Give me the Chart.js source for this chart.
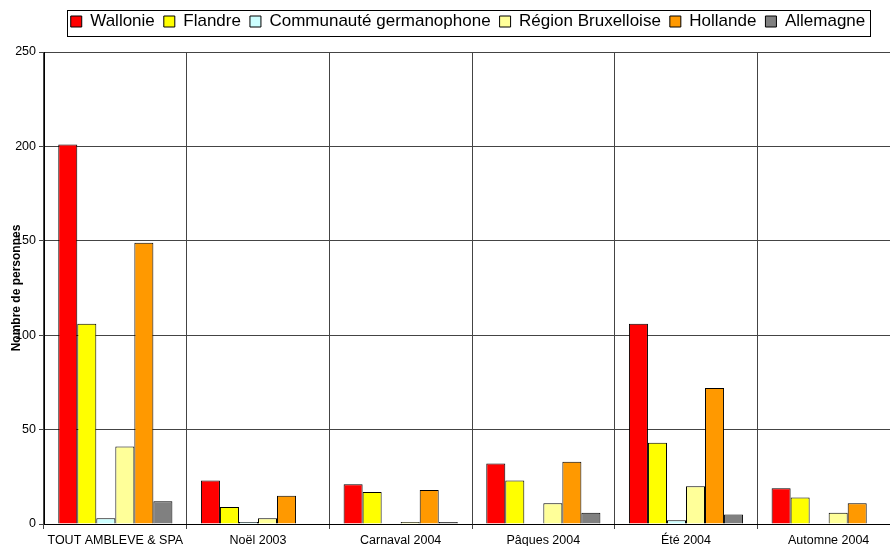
<!DOCTYPE html>
<html>
<head>
<meta charset="utf-8">
<script src="https://cdn.jsdelivr.net/npm/chart.js@4.4.0/dist/chart.umd.min.js"></script>
<style>
  body { margin: 0; background: #fff; }
  #wrap { width: 890px; height: 546px; overflow: hidden; }
</style>
</head>
<body>
<div id="wrap"><canvas id="myChart" width="936" height="546"></canvas></div>
<script>
// donnees
const periodes = ['TOUT AMBLEVE & SPA', 'Noël 2003', 'Carnaval 2004', 'Pâques 2004', 'Été 2004', 'Automne 2004'];
const wallonie = [201, 23, 21, 32, 106, 19];
const flandre = [106, 9, 17, 23, 43, 14];
const germanophone = [3, 1, 0, 0, 2, 0];
const bruxelles = [41, 3, 1, 11, 20, 6];
const hollande = [149, 15, 18, 33, 72, 11];
const allemagne = [12, 0, 1, 6, 5, 0];
const yTicks = [0, 50, 100, 150, 200, 250];

const police = 'Arial, "Liberation Sans", sans-serif';

// legend: decalage + cadre noir autour
const legendBox = {
  id: 'legendBox',
  beforeLayout(chart) {
    const lg = chart.legend;
    if (lg && !lg._patched) {
      const fit = lg.fit;
      lg.fit = function () { fit.call(this); this.height += 12; };
      lg._patched = true;
    }
  },
  afterLayout(chart) {
    const lg = chart.legend;
    lg.left += 18;
    lg.right += 18;
  },
  afterDraw(chart) {
    const boxes = chart.legend.legendHitBoxes;
    if (!boxes || !boxes.length) return;
    const ctx = chart.ctx;
    let x1 = Infinity, x2 = -Infinity;
    boxes.forEach(b => { x1 = Math.min(x1, b.left); x2 = Math.max(x2, b.left + b.width); });
    const cy = boxes[0].top + boxes[0].height / 2;
    ctx.save();
    ctx.strokeStyle = '#000';
    ctx.lineWidth = 1;
    ctx.strokeRect(Math.round(x1 - 4) + 0.5, Math.round(cy - 12) + 0.5, Math.round(x2 - x1 + 8), 26);
    ctx.restore();
  }
};

const ctx = document.getElementById('myChart');

new Chart(ctx, {
  type: 'bar',
  data: {
    labels: periodes,
    datasets: [
      { label: 'Wallonie', data: wallonie, backgroundColor: '#FF0000' },
      { label: 'Flandre', data: flandre, backgroundColor: '#FFFF00' },
      { label: 'Communauté germanophone', data: germanophone, backgroundColor: '#CCFFFF' },
      { label: 'Région Bruxelloise', data: bruxelles, backgroundColor: '#FFFF99' },
      { label: 'Hollande', data: hollande, backgroundColor: '#FF9900' },
      { label: 'Allemagne', data: allemagne, backgroundColor: '#808080' }
    ].map(d => Object.assign(d, { borderColor: '#000', borderWidth: 1 }))
  },
  options: {
    responsive: false,
    animation: false,
    categoryPercentage: 0.8,
    barPercentage: 1,
    layout: { padding: { top: 4, right: 36, left: 0, bottom: 0 } },
    plugins: {
      tooltip: { enabled: false },
      legend: {
        position: 'top',
        labels: {
          font: { family: police, size: 17 },
          color: '#000',
          boxWidth: 11,
          boxHeight: 11,
          padding: 9
        }
      }
    },
    scales: {
      x: {
        grid: { offset: true, color: '#444', tickLength: 5, drawTicks: true },
        border: { color: '#000' },
        ticks: { font: { family: police, size: 12.5 }, color: '#000', padding: 4, maxRotation: 0, autoSkip: false },
        afterFit(axis) { axis.height = 22; }
      },
      y: {
        min: 0,
        max: 250,
        afterBuildTicks(axis) { axis.ticks = yTicks.map(v => ({ value: v })); },
        grid: { color: '#444', tickLength: 5 },
        border: { color: '#000' },
        ticks: { font: { family: police, size: 12.5 }, color: '#000', padding: 3 },
        title: {
          display: true,
          text: 'Nombre de personnes',
          font: { family: police, size: 12, weight: 'bold' },
          color: '#000',
          padding: { top: 9, bottom: 0 }
        },
        afterFit(axis) { axis.width = 44; }
      }
    }
  },
  plugins: [legendBox]
});
</script>
</body>
</html>
